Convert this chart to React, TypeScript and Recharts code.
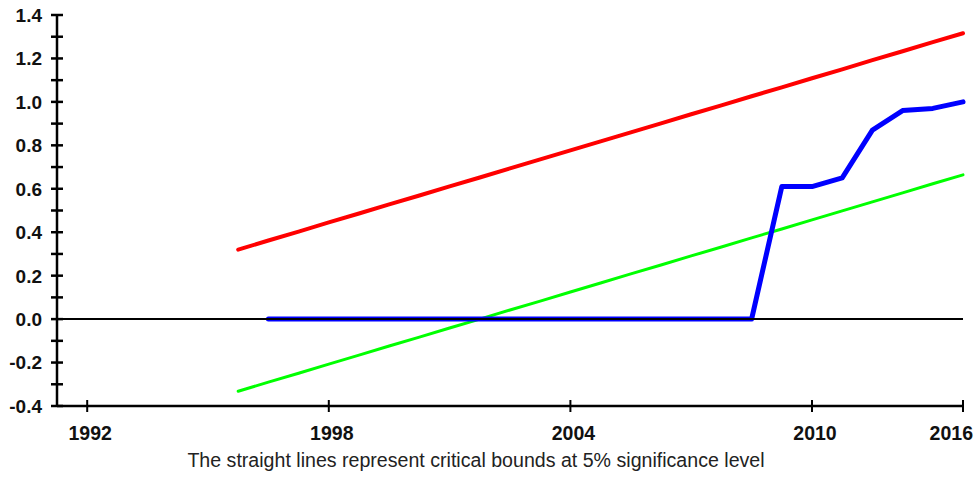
import React from "react";
import { LineChart, Line, XAxis, YAxis, ReferenceLine } from "recharts";

// observation index (x position), the labels below are placed at given indices
const obs = [6, 7, 8, 9, 10, 11, 12, 13, 14, 15, 16, 17, 18, 19, 20, 21, 22, 23, 24, 25, 26, 27, 28, 29, 30];

// upper critical bound (red)
const upperBound = [0.32, 0.362, 0.403, 0.445, 0.486, 0.528, 0.569, 0.611, 0.652, 0.694, 0.735, 0.777, 0.818, 0.86, 0.901, 0.943, 0.984, 1.026, 1.067, 1.109, 1.15, 1.192, 1.233, 1.275, 1.316];

// lower critical bound (green)
const lowerBound = [-0.332, -0.29, -0.249, -0.207, -0.166, -0.124, -0.083, -0.041, 0.0, 0.042, 0.083, 0.125, 0.166, 0.208, 0.249, 0.291, 0.332, 0.374, 0.415, 0.457, 0.498, 0.54, 0.581, 0.623, 0.664];

// CUSUM of squares (blue)
const cusumSq: (number | null)[] = [null, 0, 0, 0, 0, 0, 0, 0, 0, 0, 0, 0, 0, 0, 0, 0, 0, 0, 0.61, 0.61, 0.65, 0.87, 0.96, 0.97, 1.0];

const xTickValues = [1, 9, 17, 25, 30];
const xTickLabels = ["1992", "1998", "2004", "2010", "2016"];

const yTicks = [-0.4, -0.3, -0.2, -0.1, 0, 0.1, 0.2, 0.3, 0.4, 0.5, 0.6, 0.7, 0.8, 0.9, 1.0, 1.1, 1.2, 1.3, 1.4];

const data = obs.map((t, i) => ({
  t,
  upper: upperBound[i],
  lower: lowerBound[i],
  cusum: cusumSq[i],
}));

const FONT = "'Liberation Sans', Arial, sans-serif";

const YTick = (props: any) => {
  const { x, y, payload } = props;
  const v = payload.value as number;
  const major = Math.round(v * 10) % 2 === 0;
  return (
    <g>
      <line x1={x + 9} x2={x + 21} y1={y} y2={y} stroke="#000" strokeWidth={2.5} />
      {major && (
        <text x={x} y={y} dy="0.36em" textAnchor="end" fontFamily={FONT} fontSize={19} fontWeight="bold" fill="#111">
          {v.toFixed(1)}
        </text>
      )}
    </g>
  );
};

const XTick = (props: any) => {
  const { x, y, payload, index } = props;
  const i = xTickValues.indexOf(payload.value);
  const last = index === xTickValues.length - 1;
  return (
    <g>
      <line x1={x} x2={x} y1={y - 26} y2={y - 14} stroke="#000" strokeWidth={2} />
      <text
        x={last ? x + 10 : x + 3}
        y={y}
        dy="0.71em"
        textAnchor={last ? "end" : "middle"}
        fontFamily={FONT}
        fontSize={19.5}
        fontWeight="bold"
        fill="#111"
      >
        {xTickLabels[i]}
      </text>
    </g>
  );
};

export default function App() {
  return (
    <div style={{ position: "relative", width: 979, height: 485, background: "#fff" }}>
      <style>{`body{margin:0}`}</style>
      <LineChart width={979} height={485} data={data} margin={{ top: 15, right: 16, bottom: 49, left: 0 }}>
        <XAxis
          dataKey="t"
          type="number"
          domain={[0, 30]}
          ticks={xTickValues}
          interval={0}
          height={30}
          tickSize={6}
          tickMargin={14}
          tickLine={false}
          axisLine={{ stroke: "#000", strokeWidth: 2.5 }}
          tick={<XTick />}
        />
        <YAxis
          type="number"
          domain={[-0.4, 1.4]}
          ticks={yTicks}
          interval={0}
          width={57}
          tickSize={6}
          tickMargin={9}
          tickLine={false}
          axisLine={{ stroke: "#000", strokeWidth: 2.5 }}
          tick={<YTick />}
        />
        <Line dataKey="upper" stroke="#ff0000" strokeWidth={4} dot={false} strokeLinecap="round" isAnimationActive={false} />
        <Line dataKey="lower" stroke="#00ff00" strokeWidth={3} dot={false} strokeLinecap="round" isAnimationActive={false} />
        <Line dataKey="cusum" stroke="#0000ff" strokeWidth={5} dot={false} strokeLinecap="round" strokeLinejoin="round" isAnimationActive={false} />
        <ReferenceLine y={0} stroke="#000" strokeWidth={2} />
      </LineChart>
      <div
        style={{
          position: "absolute",
          top: 450,
          left: 0,
          width: 952,
          textAlign: "center",
          fontFamily: FONT,
          fontSize: 19.6,
          lineHeight: "20px",
          color: "#222",
        }}
      >
        The straight lines represent critical bounds at 5% significance level
      </div>
    </div>
  );
}
